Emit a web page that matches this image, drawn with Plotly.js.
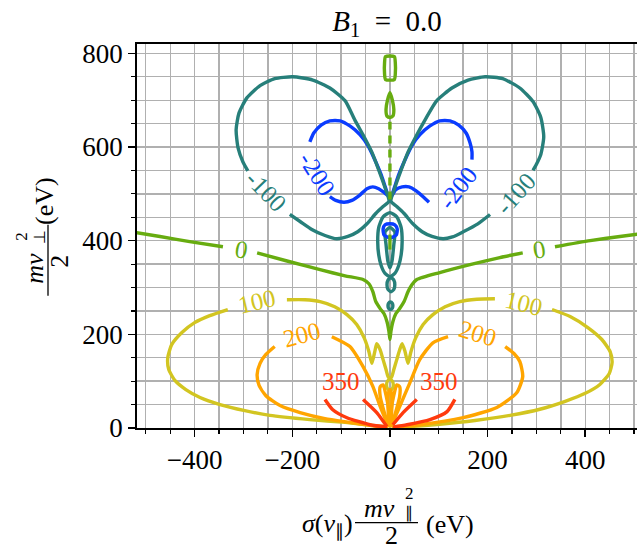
<!DOCTYPE html>
<html><head><meta charset="utf-8">
<script src="https://cdn.plot.ly/plotly-3.0.1.min.js"></script>
<style>html,body{margin:0;padding:0;background:#fff}</style>
</head><body><div id="chart" style="width:637px;height:550px"></div>
<script>
// Energy-level contours in the (parallel, perpendicular) energy plane, eV
// Level -200
const m200L_x = [-164,-156,-141,-123,-102,-82,-61,-45,-31,-18,-10,-4,-12,-23,-35,-47,-61,-78,-94,-111,-123];
const m200L_y = [611,630,647,656,656,645,626,603,573,541,516,496,503,511,515,511,498,486,482,486,494];
const m200R_x = [168,168,164,156,141,123,102,82,61,45,31,18,10,4,12,25,39,53,68,80];
const m200R_y = [573,590,609,630,647,656,656,645,626,603,573,541,516,496,509,515,515,507,494,482];
const m200C_x = [0,10,15,13,0,-12,-14,-10,0];
const m200C_y = [436,434,425,412,406,412,425,434,436];
// Level -100
const m100L_x = [-205,-184,-160,-133,-109,-86,-66,-47,-29,-14,-2,-10,-23,-37,-53,-72,-92,-123,-158,-199,-236,-266,-293,-309,-315,-311,-301,-291];
const m100L_y = [456,441,424,411,404,409,419,436,458,473,484,513,551,589,622,658,699,726,743,750,746,731,705,673,637,598,568,549];
const m100R_x = [205,180,150,128,109,86,66,47,29,14,2,10,23,37,53,72,96,127,160,195,231,266,293,309,315,309,299,293];
const m100R_y = [456,436,419,408,404,409,419,436,458,473,484,513,551,589,622,658,699,726,743,750,746,726,697,663,622,584,561,550];
const m100C_x = [-25,-23,-14,0,14,23,25,23,18,10,0,-10,-18,-23,-25];
const m100C_y = [398,428,451,460,451,428,398,370,347,330,323,330,347,370,398];
const m100I_x = [-10,-8,-4,0,4,8,10,0,-10];
const m100I_y = [419,392,355,342,355,392,419,428,419];
const m100B1_x = [2,8,10,8,2,-4,-6,-4,2];
const m100B1_y = [321,316,306,296,291,296,306,316,321];
const m100B2_x = [1,5,6,5,1,-3,-4,-3,1];
const m100B2_y = [269,266,261,256,253,256,261,266,269];
// Level 0
const z1_x = [-530,-471,-410,-342];
const z1_y = [419,409,398,387];
const z2_x = [-272,-205,-143,-92,-55,-43,-35,-29,-20,-12,-6,-2,0,2,6,12,20,29,37,45,55,102,164,225,272];
const z2_y = [374,355,338,325,317,308,291,270,255,244,227,206,189,206,227,244,255,270,291,306,317,332,349,364,374];
const z3_x = [338,410,471,530];
const z3_y = [387,400,409,417];
const zTop_x = [-9,9,11,11,9,-9,-11,-11,-9];
const zTop_y = [793,793,780,756,744,744,756,780,793];
const zDrop_x = [0,5,8,6,0,-6,-8,-5,0];
const zDrop_y = [716,700,680,666,663,666,680,700,716];
const zDash_x = [0,0];
const zDash_y = [488,654];
const zCore_x = [0,0];
const zCore_y = [381,413];
// Level 100
const p100L_x = [-332,-369,-400,-426,-447,-455,-453,-440,-418,-389,-348,-297,-246,-164,-92,-41,-4];
const p100L_y = [253,240,225,204,178,150,125,101,82,65,50,37,27,18,12,6,2];
const p100U_x = [-211,-174,-143,-113,-88,-68,-53,-43,-37,-31,-27,-20,-14,-8,-4,0,4,8,14,20,25,31,37,43,53,68,88,113,143,178,215];
const p100U_y = [274,274,270,259,242,221,193,163,138,163,180,167,146,125,110,105,110,125,146,167,180,163,138,163,193,221,242,259,270,275,276];
const p100R_x = [332,369,406,434,451,455,449,430,400,359,307,246,174,102,41,4];
const p100R_y = [253,238,214,189,163,140,116,93,74,57,40,27,16,8,3,0.5];
const p100O_x = [0,5,7,5,0,-5,-7,-5,0];
const p100O_y = [104,100,92,84,80,84,92,100,104];
// Level 200
const p200LL_x = [-236,-254,-266,-272,-268,-254,-225,-184,-133,-82,-37,-4];
const p200LL_y = [174,157,138,114,91,69,48,33,20,12,5,1];
const p200LU_x = [-119,-82,-55,-35,-20,-6];
const p200LU_y = [195,174,131,89,46,10];
const p200RU_x = [119,88,61,41,20,6];
const p200RU_y = [195,182,146,97,46,12];
const p200RL_x = [236,254,266,272,260,219,150,61,6];
const p200RL_y = [174,159,142,110,76,44,22,7,2];
const p200PL_x = [-2,-12,-20,-20,-14,-8,-2,0];
const p200PL_y = [2,35,68,88,92,70,35,2];
const p200PR_x = [2,12,20,20,14,8,2,0];
const p200PR_y = [2,35,68,88,92,70,35,2];
const p200PC_x = [-2,-4,-3,0,3,4,2];
const p200PC_y = [2,50,75,82,75,50,2];
// Level 350
const p350LO_x = [-133,-117,-88,-41,-6];
const p350LO_y = [61,39,22,7,2];
const p350LI_x = [-55,-27,-6];
const p350LI_y = [61,33,3];
const p350RI_x = [55,27,6];
const p350RI_y = [61,33,7];
const p350RO_x = [133,117,82,35,6];
const p350RO_y = [61,35,18,7,2];

// Inline contour labels: text, position, rotation
const labelText  = ['-200','-200','-100','-100','0','0','100','100','200','200','350','350'];
const labelX     = [-150,140,-253,258,-303,306,-273,275,-180,181,-101,100];
const labelY     = [543,513,505,500,381,381,271,266,200,202,100,100];
const labelAngle = [58,-52,46,-48,10,-10,-13,14,-15,17,0,0];
const labelLevel = [-200,-200,-100,-100,0,0,100,100,200,200,350,350];

const COLORS = {'-200':'#0a3cff','-100':'#277f7a','0':'#67ac10','100':'#d2c521','200':'#ffa500','350':'#ff3a0e'};
const SERIF = 'Liberation Serif, Times New Roman, serif';

function seg(x, y, lvl, extra) {
  return Object.assign({
    x: x, y: y, type: 'scatter', mode: 'lines', hoverinfo: 'skip', showlegend: false,
    line: {color: COLORS[String(lvl)], width: 3.4, shape: 'spline', smoothing: 0.6}
  }, extra || {});
}

const traces = [
  seg(m200L_x, m200L_y, -200), seg(m200R_x, m200R_y, -200),
  seg(m100L_x, m100L_y, -100), seg(m100R_x, m100R_y, -100),
  seg(m100C_x, m100C_y, -100), seg(m100I_x, m100I_y, -100),
  seg(m100B1_x, m100B1_y, -100), seg(m100B2_x, m100B2_y, -100),
  seg(m200C_x, m200C_y, -200),
  seg(z1_x, z1_y, 0), seg(z2_x, z2_y, 0), seg(z3_x, z3_y, 0),
  seg(zTop_x, zTop_y, 0), seg(zDrop_x, zDrop_y, 0), seg(zCore_x, zCore_y, 0),
  seg(zDash_x, zDash_y, 0, {line: {color: COLORS['0'], width: 3.4, dash: '8px,6px'}}),
  seg(p100L_x, p100L_y, 100), seg(p100U_x, p100U_y, 100), seg(p100R_x, p100R_y, 100),
  seg(p100O_x, p100O_y, 100),
  seg(p200LL_x, p200LL_y, 200), seg(p200LU_x, p200LU_y, 200),
  seg(p200RU_x, p200RU_y, 200), seg(p200RL_x, p200RL_y, 200),
  seg(p200PL_x, p200PL_y, 200), seg(p200PR_x, p200PR_y, 200), seg(p200PC_x, p200PC_y, 200),
  seg(p350LO_x, p350LO_y, 350), seg(p350LI_x, p350LI_y, 350),
  seg(p350RI_x, p350RI_y, 350), seg(p350RO_x, p350RO_y, 350)
];

const annotations = labelText.map((t, i) => ({
  x: labelX[i], y: labelY[i], xref: 'x', yref: 'y', text: t, showarrow: false,
  textangle: labelAngle[i], font: {family: SERIF, size: 25, color: COLORS[String(labelLevel[i])]}
}));

// Axis titles assembled from pieces (plot area: 137..637 px wide, 44..428 px tall)
const W = 500, H = 384.3, L = 137, B = 428.3;
function px(xp) { return (xp - L) / W; }
function py(yp) { return (B - yp) / H; }
function txt(s, xp, yp, size, angle) {
  return {text: s, x: px(xp), y: py(yp), xref: 'paper', yref: 'paper', showarrow: false,
          xanchor: 'center', yanchor: 'middle', textangle: angle || 0,
          font: {family: SERIF, size: size, color: '#000'}};
}
annotations.push(
  txt('<i>σ</i>(<i>v</i><sub>∥</sub>)', 327, 525, 26),
  txt('<i>mv</i>', 379, 509, 26),
  txt('2', 409, 494, 17),
  txt('∥', 409, 513, 16),
  txt('2', 391, 536, 26),
  txt('(eV)', 450, 525, 26),
  txt('(eV)', 45, 201, 26, -90),
  txt('<i>mv</i>', 35, 269, 26, -90),
  txt('2', 22, 237, 17, -90),
  txt('⊥', 40, 237, 16, -90),
  txt('2', 60, 262, 26, -90)
);

const shapes = [
  {type: 'line', xref: 'paper', yref: 'paper', x0: px(355), x1: px(418), y0: py(523), y1: py(523),
   line: {color: '#000', width: 1.3}},
  {type: 'line', xref: 'paper', yref: 'paper', x0: px(48), x1: px(48), y0: py(225), y1: py(296),
   line: {color: '#000', width: 1.3}}
];

const axisCommon = {
  ticks: 'outside', ticklen: 7, tickwidth: 1.5, tickcolor: '#000',
  showline: true, linecolor: '#000', linewidth: 1.8,
  showgrid: true, gridcolor: '#b0b0b0', gridwidth: 1.4, zeroline: false,
  tickfont: {family: SERIF, size: 27, color: '#000'},
  minor: {dtick: 50, tick0: 0, ticks: 'outside', ticklen: 4, tickwidth: 1.2, tickcolor: '#000',
          showgrid: true, gridcolor: '#b0b0b0', gridwidth: 1.4}
};

const layout = {
  width: 637, height: 550,
  margin: {l: 137, r: 0, t: 44, b: 122, pad: 0},
  paper_bgcolor: '#fff', plot_bgcolor: '#fff',
  title: {text: '<i>B</i><sub>1</sub>\u2002=\u20020.0', x: 0.5, xref: 'paper', xanchor: 'center',
          y: 1 - 21 / 550, yref: 'container', yanchor: 'middle',
          font: {family: SERIF, size: 29, color: '#000'}},
  xaxis: Object.assign({}, axisCommon, {range: [-518, 506], tick0: 0, dtick: 200, mirror: true}),
  yaxis: Object.assign({}, axisCommon, {range: [0, 820], tick0: 0, dtick: 200}),
  annotations: annotations,
  shapes: shapes
};

Plotly.newPlot('chart', traces, layout, {displayModeBar: false, staticPlot: true});
</script></body></html>
